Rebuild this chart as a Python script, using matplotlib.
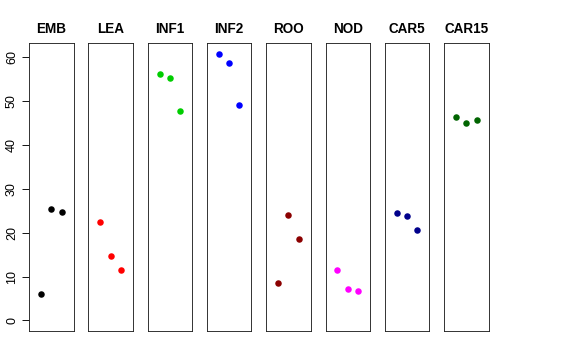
import numpy as np
import matplotlib
matplotlib.use("Agg")
import matplotlib.pyplot as plt

plt.rcParams['font.family'] = ['Liberation Sans', 'DejaVu Sans']

groups = ["EMB", "LEA", "INF1", "INF2", "ROO", "NOD", "CAR5", "CAR15"]
colors = ["black", "red", "#00CD00", "blue", "#8B0000", "magenta", "#00008B", "#006400"]
values = {
    "EMB":   [6.1, 25.5, 24.7],
    "LEA":   [22.5, 14.6, 11.4],
    "INF1":  [56.3, 55.3, 47.8],
    "INF2":  [60.9, 58.7, 49.2],
    "ROO":   [8.45, 24.1, 18.5],
    "NOD":   [11.5, 7.15, 6.8],
    "CAR5":  [24.6, 23.8, 20.7],
    "CAR15": [46.3, 45.0, 45.75],
}
yticks = [0, 10, 20, 30, 40, 50, 60]

W, H = 576, 360
fig = plt.figure(figsize=(W / 72, H / 72), dpi=72)

left0 = 29
pw = 44.5
pitch = 59.3
top, bottom = 43, 331

for i, g in enumerate(groups):
    x0 = left0 + i * pitch
    ax = fig.add_axes([x0 / W, (H - bottom) / H, pw / W, (bottom - top) / H])
    ax.plot([1, 2, 3], values[g], 'o', color=colors[i], markersize=6.5, markeredgewidth=0)
    ax.set_xlim(-0.16, 4.16)
    ax.set_ylim(-2.44, 63.3)
    ax.set_xticks([])
    for s in ax.spines.values():
        s.set_linewidth(0.9)
        s.set_color("#222222")
    if i == 0:
        ax.set_yticks(yticks)
        ax.set_yticklabels([str(t) for t in yticks], rotation=90, va="center", fontsize=12.5)
        ax.tick_params(axis="y", length=7, width=0.9, pad=4)
    else:
        ax.set_yticks([])
    ax.set_title(g, fontsize=13.5, fontweight="bold", pad=10)

plt.savefig("out.png", dpi=72)
